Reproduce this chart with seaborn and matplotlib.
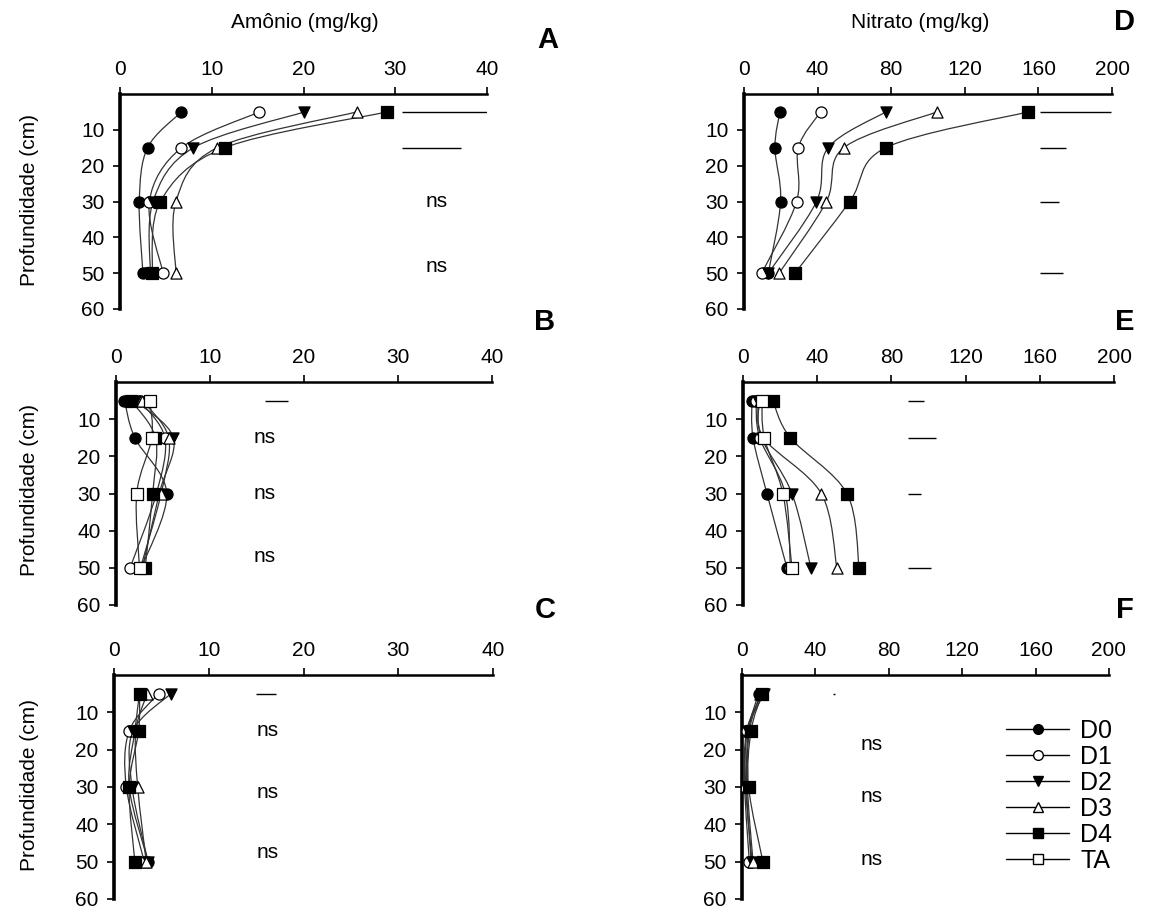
import numpy as np
import matplotlib
matplotlib.use("Agg")
import matplotlib.pyplot as plt
import seaborn as sns
from matplotlib.path import Path
from matplotlib.patches import PathPatch
from matplotlib.lines import Line2D

# profundidades amostradas (cm)
depth = [5, 15, 30, 50]
series = ["D0", "D1", "D2", "D3", "D4", "TA"]

# amonio (mg/kg) - paineis A, B, C
amonio_A = {"D0": [6.7, 3.0, 2.1, 2.5], "D1": [15.2, 6.7, 3.2, 4.7],
            "D2": [20.1, 8.0, 3.6, 3.3], "D3": [25.8, 10.6, 6.1, 6.1],
            "D4": [29.1, 11.4, 4.4, 3.5]}
amonio_B = {"D0": [0.9, 2.0, 5.4, 2.7], "D1": [2.5, 5.2, 4.3, 1.5],
            "D2": [2.0, 6.1, 4.6, 2.8], "D3": [2.8, 5.6, 4.8, 2.6],
            "D4": [1.6, 4.2, 3.9, 3.1], "TA": [3.6, 3.8, 2.2, 2.5]}
amonio_C = {"D0": [2.7, 2.2, 1.6, 3.6], "D1": [4.7, 1.6, 1.3, 3.2],
            "D2": [6.0, 2.0, 1.9, 3.6], "D3": [3.5, 2.3, 2.5, 3.4],
            "D4": [2.7, 2.6, 1.6, 2.2]}

# nitrato (mg/kg) - paineis D, E, F
nitrato_D = {"D0": [19.5, 16.8, 19.9, 13.2], "D1": [41.6, 29.5, 28.6, 9.6],
             "D2": [77.0, 45.7, 39.4, 13.2], "D3": [104.9, 54.2, 44.8, 19.1],
             "D4": [154.3, 77.0, 57.5, 27.7]}
nitrato_E = {"D0": [4.8, 5.4, 12.9, 23.7], "D1": [7.0, 9.0, 22.8, 25.5],
             "D2": [8.0, 10.0, 26.4, 36.6], "D3": [9.0, 11.0, 42.2, 50.6],
             "D4": [16.1, 25.5, 56.0, 62.6], "TA": [10.2, 11.5, 21.5, 26.4]}
nitrato_F = {"D0": [9.0, 3.5, 2.5, 5.0], "D1": [11.0, 2.5, 1.5, 4.0],
             "D2": [12.0, 3.0, 2.0, 5.5], "D3": [10.0, 4.0, 3.0, 6.0],
             "D4": [11.0, 4.9, 3.6, 11.4]}

# barras de DMS: (profundidade, inicio, fim)
dms_A = [(5, 30.7, 40.2), (15, 30.7, 37.2)]
dms_B = [(5, 15.8, 18.3)]
dms_C = [(5, 15.0, 17.1)]
dms_D = [(5, 160.6, 199.5), (15, 160.6, 175.0), (30, 160.6, 171.4), (50, 160.6, 173.3)]
dms_E = [(5, 89.1, 97.6), (15, 89.1, 104.0), (30, 89.1, 95.8), (50, 89.1, 101.2)]
dms_F = [(5, 49.5, 50.5)]

sns.set_style("ticks")
plt.rcParams["font.family"] = ["Liberation Sans", "DejaVu Sans"]
for k in ["text.color", "axes.labelcolor", "xtick.color", "ytick.color", "axes.edgecolor"]:
    plt.rcParams[k] = "black"

style = {"D0": ("o", "black"), "D1": ("o", "white"), "D2": ("v", "black"),
         "D3": ("^", "white"), "D4": ("s", "black"), "TA": ("s", "white")}


def smooth_path(x, y):
    # curva suavizada (estilo Excel) passando pelos pontos
    pts = np.column_stack([x, y]).astype(float)
    n = len(pts)
    verts = [pts[0]]
    codes = [Path.MOVETO]
    for i in range(n - 1):
        p0 = pts[i - 1] if i > 0 else pts[i]
        p1, p2 = pts[i], pts[i + 1]
        p3 = pts[i + 2] if i + 2 < n else pts[i + 1]
        verts += [p1 + (p2 - p0) / 6, p2 - (p3 - p1) / 6, p2]
        codes += [Path.CURVE4] * 3
    return Path(verts, codes)


def draw_panel(ax, data, xmax, xstep, dms, ns_pos, ns_x):
    for name in series:
        if name not in data:
            continue
        vals = data[name]
        ax.add_patch(PathPatch(smooth_path(vals, depth), facecolor="none",
                               edgecolor="#333333", lw=0.9, zorder=2))
        m, fc = style[name]
        sns.scatterplot(x=vals, y=depth, marker=m, s=64, color=fc,
                        edgecolor="black", linewidth=0.9, ax=ax, zorder=3)
    for d, x0, x1 in dms:
        ax.hlines(d, x0, x1, color="black", lw=1.0)
    for d in ns_pos:
        ax.text(ns_x, d, "ns", ha="center", va="center", fontsize=15)
    ax.set_xlim(0, xmax)
    ax.set_ylim(60, 0)
    ax.set_xticks(np.arange(0, xmax + 1, xstep))
    ax.set_yticks([10, 20, 30, 40, 50, 60])
    ax.xaxis.tick_top()
    ax.tick_params(axis="both", labelsize=15, length=5, width=1.2, pad=6)
    for s in ["right", "bottom"]:
        ax.spines[s].set_visible(False)
    ax.spines["left"].set_linewidth(2.6)
    ax.spines["top"].set_linewidth(1.8)
    ax.set_xlabel("")
    ax.set_ylabel("")


fig = plt.figure(figsize=(11.58, 9.10), dpi=100)
W, H = 1158, 910


def add_ax(x0, x1, y0, y1):
    return fig.add_axes([x0 / W, 1 - y1 / H, (x1 - x0) / W, (y1 - y0) / H])


axA = add_ax(120, 487, 94, 309)
axB = add_ax(116, 492, 382, 605)
axC = add_ax(114, 493, 675, 899)
axD = add_ax(744, 1112, 94, 309)
axE = add_ax(743, 1114, 382, 605)
axF = add_ax(742, 1109, 675, 899)

draw_panel(axA, amonio_A, 40, 10, dms_A, [30, 48], 34.5)
draw_panel(axB, amonio_B, 40, 10, dms_B, [15, 30, 47], 15.8)
draw_panel(axC, amonio_C, 40, 10, dms_C, [15, 31.5, 47.5], 16.2)
draw_panel(axD, nitrato_D, 200, 40, dms_D, [], 0)
draw_panel(axE, nitrato_E, 200, 40, dms_E, [], 0)
draw_panel(axF, nitrato_F, 200, 40, dms_F, [18.5, 32.5, 49.3], 70.7)

# legenda no painel F
handles = [Line2D([0], [0], color="black", lw=1.0, marker=style[n][0],
                  markerfacecolor=style[n][1], markeredgecolor="black",
                  markersize=7) for n in series]
axF.legend(handles, series, loc="upper left", bbox_to_anchor=(0.693, 0.85),
           frameon=False, fontsize=18, handlelength=2.5, labelspacing=0.08,
           handletextpad=0.45, borderaxespad=0)

for y in [200, 490, 785]:
    fig.text(30 / W, 1 - y / H, "Profundidade (cm)", rotation=90,
             ha="center", va="center", fontsize=15)

fig.text(305 / W, 1 - 22 / H, "Amônio (mg/kg)", ha="center", va="center", fontsize=15)
fig.text(920 / W, 1 - 22 / H, "Nitrato (mg/kg)", ha="center", va="center", fontsize=15)

for lab, x, y in [("A", 548, 40), ("D", 1125, 22), ("B", 545, 322),
                  ("E", 1125, 322), ("C", 545, 610), ("F", 1125, 610)]:
    fig.text(x / W, 1 - y / H, lab, ha="center", va="center",
             fontsize=21, fontweight="bold")

fig.savefig("out.png", dpi=100)
